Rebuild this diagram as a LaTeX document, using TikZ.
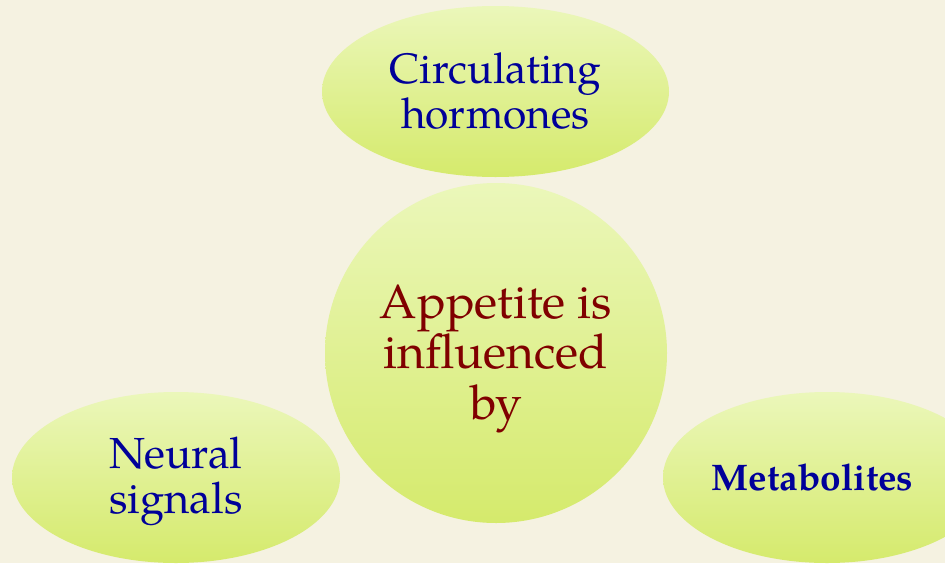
\documentclass[tikz,border=0pt]{standalone}
\usepackage{fontspec}
\setmainfont{TeX Gyre Pagella}
\usetikzlibrary{shapes.geometric}
\definecolor{bgcol}{HTML}{F5F2E1}
\definecolor{topg}{HTML}{EBF7BA}
\definecolor{botg}{HTML}{D5EA6C}
\definecolor{txtblue}{HTML}{000099}
\definecolor{txtred}{HTML}{800000}
\tikzset{
  bubble/.style={ellipse, draw=none, inner sep=0pt, top color=topg, bottom color=botg},
  lbl/.style={align=center, inner sep=0pt, anchor=base},
}
\begin{document}
\begin{tikzpicture}[x=1pt,y=-1pt]
\useasboundingbox (0,0) rectangle (945,563);
\fill[bgcol] (0,0) rectangle (945,563);
\clip (0,0) rectangle (945,563);
\node[bubble, minimum width=347pt, minimum height=171pt] (top) at (495.5,91.5) {};
\node[bubble, minimum width=342pt, minimum height=340pt] (mid) at (496,353) {};
\node[bubble, minimum width=328pt, minimum height=171pt] (left) at (176,477.5) {};
\node[bubble, minimum width=328pt, minimum height=171pt] (right) at (827,477.5) {};
\node[lbl, text=txtblue, font=\fontsize{42.5}{45}\selectfont] (toptxt) at (495.5,128) {Circulating\\hormones};
\node[lbl, text=txtred, font=\fontsize{48}{50.5}\selectfont] (midtxt) at (496,419) {Appetite is\\influenced\\by};
\node[lbl, text=txtblue, font=\fontsize{43.5}{45}\selectfont] (lefttxt) at (176,513) {Neural\\signals};
\node[lbl, text=txtblue, font=\bfseries\fontsize{37}{40}\selectfont] (righttxt) at (812.5,490) {Metabolites};
\end{tikzpicture}
\end{document}
